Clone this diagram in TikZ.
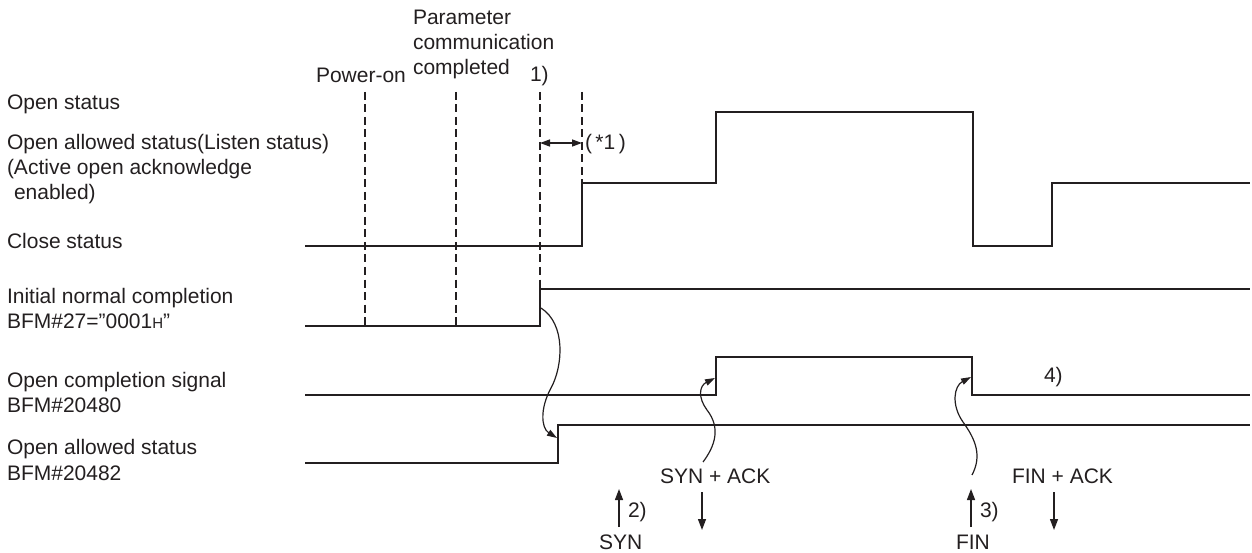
\documentclass[tikz,border=0pt]{standalone}
\usepackage{fontspec}
\setmainfont{Liberation Sans}
\usetikzlibrary{arrows.meta}
\definecolor{ink}{RGB}{35,31,32}
\begin{document}
\begin{tikzpicture}[x=1pt,y=-1pt,
  lbl/.style={anchor=base west,inner sep=0pt,outer sep=0pt,font=\fontsize{21}{25}\selectfont,text=ink},
  wave/.style={draw=ink,line width=1.5pt,line join=miter},
  guide/.style={draw=ink,line width=2pt,dash pattern=on 8pt off 4.5pt},
  sig/.style={draw=ink,line width=1.4pt,-{Triangle[length=11pt,width=8pt]}},
  flow/.style={draw=ink,line width=1.2pt,-{Triangle[length=10pt,width=6.5pt]}},
  span/.style={draw=ink,line width=1.4pt,{Triangle[length=10pt,width=7pt]}-{Triangle[length=10pt,width=7pt]}},
]
\useasboundingbox (0,0) rectangle (1252,553);

% left labels
\node[lbl] (l1) at (7,110) {Open status};
\node[lbl] (l2a) at (7,150) {Open allowed status(Listen status)};
\node[lbl] (l2b) at (7,175) {(Active open acknowledge};
\node[lbl] (l2c) at (14,200) {enabled)};
\node[lbl] (l3) at (7,248) {Close status};
\node[lbl] (l4a) at (7,303) {Initial normal completion};
\node[lbl] (l4b) at (7,328) {BFM\#27=\char34 0001{\fontsize{15}{15}\selectfont H}\char34};
\node[lbl] (l5a) at (7,387) {Open completion signal};
\node[lbl] (l5b) at (7,412) {BFM\#20480};
\node[lbl] (l6a) at (7,454) {Open allowed status};
\node[lbl] (l6b) at (7,480) {BFM\#20482};

% top labels
\node[lbl] (pw) at (316,83) {Power-on};
\node[lbl] (pa) at (413,25) {Parameter};
\node[lbl] (pb) at (413,50) {communication};
\node[lbl] (pc) at (413,75) {completed};
\node[lbl] (n1) at (530,82) {1)};
\node[lbl] (st1) at (585,150) {(\,*1\,)};

% dashed guides
\draw[guide] (365,92) -- (365,326);
\draw[guide] (456,92) -- (456,326);
\draw[guide] (540,92) -- (540,289);
\draw[guide] (582,92) -- (582,246);

% span arrow
\coordinate (sp1) at (540,143);
\coordinate (sp2) at (582,143);
\draw[span] (sp1) -- (sp2);

% waveforms
\draw[wave] (305,246) -- (582,246) -- (582,183) -- (716,183) -- (716,112) -- (973,112) -- (973,246) -- (1052,246) -- (1052,183) -- (1250,183);
\draw[wave] (305,326) -- (540,326) -- (540,289) -- (1250,289);
\draw[wave] (305,395) -- (716,395) -- (716,357) -- (972,357) -- (972,395) -- (1250,395);
\draw[wave] (305,463) -- (558,463) -- (558,425) -- (1250,425);

% curved cause arrows
\coordinate (a1s) at (541,308);
\coordinate (a1e) at (557,438);
\draw[flow] (a1s) .. controls (566,324) and (563,366) .. (551,388) .. controls (540,408) and (541,428) .. (a1e);
\coordinate (a2s) at (703,462);
\coordinate (a2e) at (715,378);
\draw[flow] (a2s) .. controls (715,446) and (721,428) .. (707,410) .. controls (698,398) and (699,386) .. (a2e);
\coordinate (a3s) at (972,475);
\coordinate (a3e) at (971,377);
\draw[flow] (a3s) .. controls (982,456) and (976,440) .. (963,422) .. controls (951,405) and (954,386) .. (a3e);

% bottom labels and message arrows
\node[lbl] (synack) at (660,483) {SYN + ACK};
\node[lbl] (n2) at (628,517) {2)};
\node[lbl] (syn) at (599,549) {SYN};
\node[lbl] (finack) at (1012,483) {FIN + ACK};
\node[lbl] (n3) at (980,517) {3)};
\node[lbl] (fin) at (956,549) {FIN};
\node[lbl] (n4) at (1044,382) {4)};

\coordinate (m1s) at (619,527); \coordinate (m1e) at (619,489);
\coordinate (m2s) at (702,492); \coordinate (m2e) at (702,530);
\coordinate (m3s) at (971,527); \coordinate (m3e) at (971,489);
\coordinate (m4s) at (1054,492); \coordinate (m4e) at (1054,530);
\draw[sig] (m1s) -- (m1e);
\draw[sig] (m2s) -- (m2e);
\draw[sig] (m3s) -- (m3e);
\draw[sig] (m4s) -- (m4e);
\end{tikzpicture}
\end{document}
